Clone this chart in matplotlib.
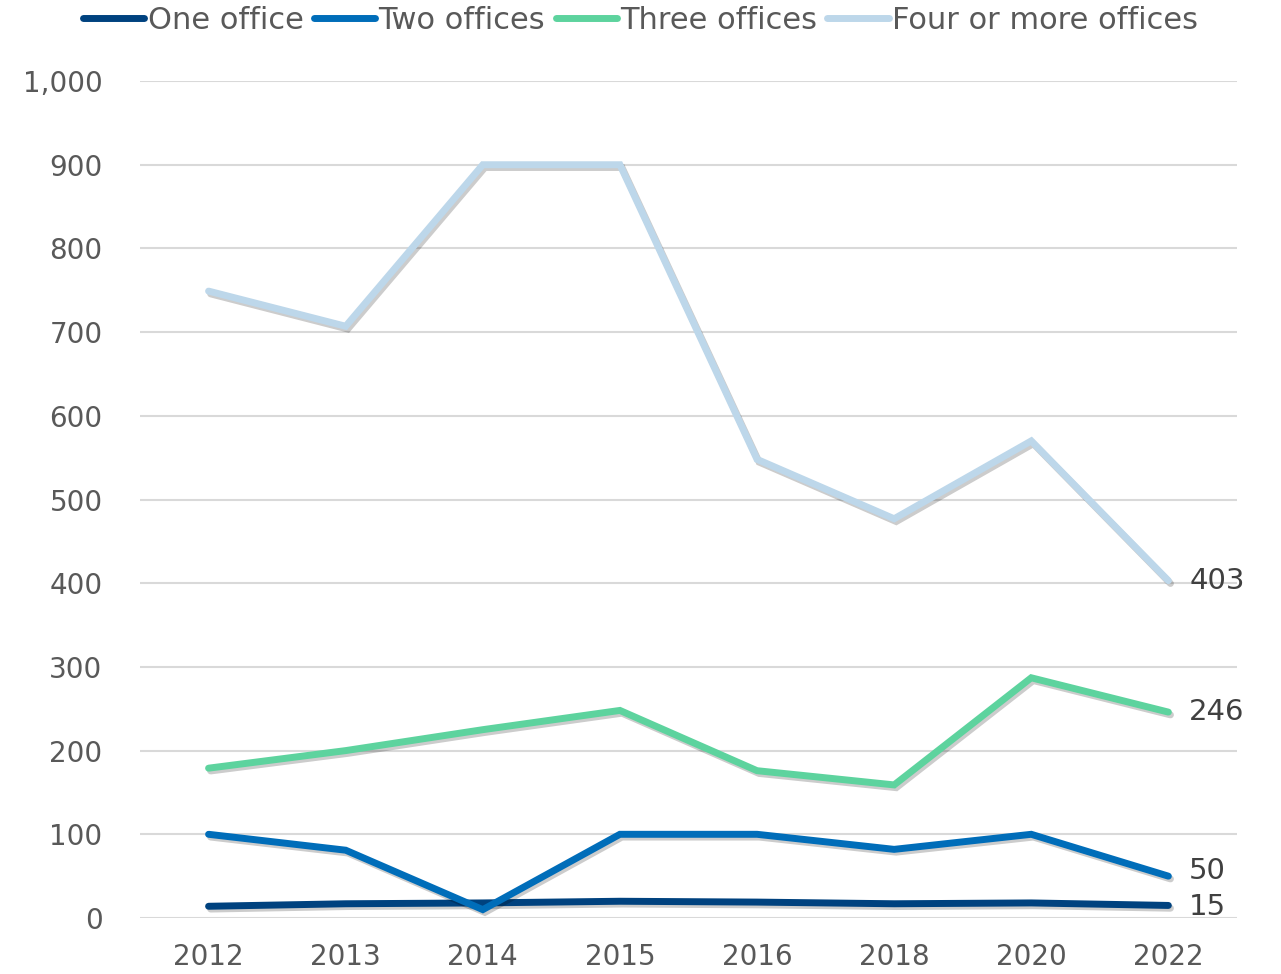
import matplotlib
matplotlib.use("Agg")
import matplotlib.pyplot as plt
import matplotlib.patheffects as pe
from matplotlib.ticker import FuncFormatter

years = ["2012", "2013", "2014", "2015", "2016", "2018", "2020", "2022"]
one_office = [14, 17, 18, 20, 19, 17, 18, 15]
two_offices = [100, 81, 10, 100, 100, 82, 100, 50]
three_offices = [179, 200, 225, 248, 176, 159, 287, 246]
four_plus = [749, 707, 900, 900, 548, 477, 570, 403]

series = [
    ("One office", one_office, "#00427F"),
    ("Two offices", two_offices, "#006DB9"),
    ("Three offices", three_offices, "#5DD39E"),
    ("Four or more offices", four_plus, "#BDD7EA"),
]
label_offsets = {"One office": -1, "Two offices": 4, "Three offices": 0, "Four or more offices": 0}

text_color = "#595959"

fig = plt.figure(figsize=(12.81, 9.74), dpi=100)
ax = fig.add_axes([0.1093, 0.0575, 0.8563, 0.8593])

x = list(range(len(years)))
shadow = [pe.SimpleLineShadow(offset=(1.5, -2), shadow_color="black", alpha=0.2), pe.Normal()]

for name, vals, col in series:
    ax.plot(x, vals, color=col, linewidth=5, solid_capstyle="round",
            solid_joinstyle="miter", label=name, path_effects=shadow, zorder=3)
    ax.annotate(str(vals[-1]), (x[-1], vals[-1]), xytext=(15, label_offsets[name]),
                textcoords="offset points", ha="left", va="center",
                fontsize=21, color="#404040")

ax.set_xlim(-0.5, len(years) - 0.5)
ax.set_ylim(0, 1000)
ax.set_yticks(range(0, 1001, 100))
ax.yaxis.set_major_formatter(FuncFormatter(lambda v, p: f"{int(v):,}"))
ax.set_xticks(x)
ax.set_xticklabels(years)

ax.grid(axis="y", color="#D9D9D9", linewidth=1.5)
ax.set_axisbelow(True)
for s in ax.spines.values():
    s.set_visible(False)
ax.tick_params(axis="both", length=0, labelsize=20, colors=text_color)
ax.tick_params(axis="y", pad=27)
ax.tick_params(axis="x", pad=18)
for line in ax.lines:
    line.set_clip_on(False)

leg = fig.legend(loc="center", bbox_to_anchor=(0.5, 0.979), ncol=4, frameon=False,
                 fontsize=22, handlelength=2.0, handletextpad=0.1, columnspacing=0.35,
                 labelcolor=text_color)
for h in leg.get_lines():
    h.set_linewidth(5)
    h.set_solid_capstyle("round")
    h.set_path_effects([])

fig.savefig("out.png", dpi=100)
